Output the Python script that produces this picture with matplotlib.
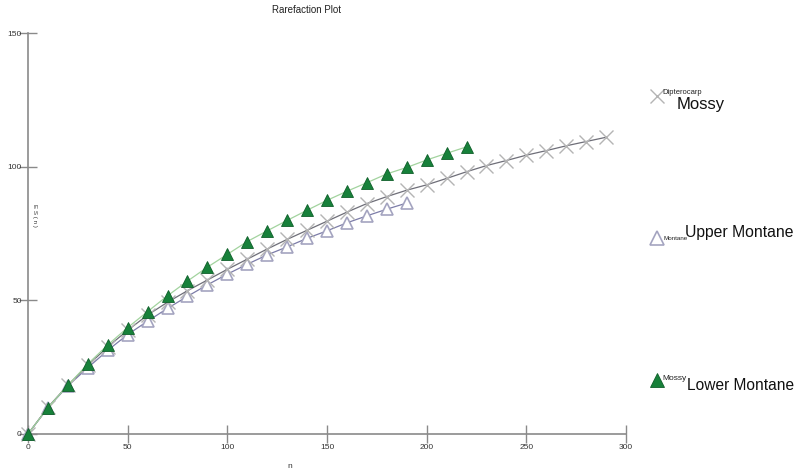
import numpy as np
import matplotlib
matplotlib.use('Agg')
import matplotlib.pyplot as plt

plt.rcParams['font.family'] = ['Liberation Sans', 'DejaVu Sans']

# sample sizes
n_dipt = np.arange(0, 300, 10)
n_upper = np.arange(0, 200, 10)
n_lower = np.arange(0, 230, 10)

# expected species E(S(n))
es_dipt = [0, 10, 18.3, 25.7, 32.6, 38.8, 44.5, 49.3, 53.6, 57.6,
           61.6, 65.4, 69.2, 72.8, 76.2, 79.6, 83.0, 86.2, 88.8, 91.2,
           93.2, 95.6, 98.1, 100.4, 102.3, 104.3, 106.0, 107.8, 109.4, 111.0]
es_upper = [0, 9.8, 18.0, 24.8, 31.3, 37.2, 42.2, 47.0, 51.5, 55.8,
            59.8, 63.5, 67.0, 70.0, 73.2, 76.0, 79.0, 81.6, 84.1, 86.4]
es_lower = [0, 9.9, 18.2, 26.2, 33.3, 39.8, 45.8, 51.7, 57.2, 62.4,
            67.2, 72.0, 76.0, 79.9, 83.7, 87.4, 90.8, 94.0, 97.3, 99.7,
            102.5, 105.0, 107.4]

x_ticks = [0, 50, 100, 150, 200, 250, 300]
y_ticks = [0, 50, 100, 150]

GREEN = '#17813a'
XGRAY = '#b4b4b4'
TRI_EDGE = '#a4a4c0'

fig = plt.figure(figsize=(8.02, 4.74), dpi=100)
ax = fig.add_axes([28 / 802, 40 / 474, 598 / 802, 401 / 474])

ax.plot(n_dipt, es_dipt, color='#6e6e78', lw=0.9, marker='x', ms=9.5,
        mec=XGRAY, mew=1.0, clip_on=False, zorder=3)
ax.plot(n_upper, es_upper, color='#7c7ca8', lw=0.9, marker='^', ms=9,
        mfc='white', mec=TRI_EDGE, mew=1.2, clip_on=False, zorder=2)
ax.plot(n_lower, es_lower, color='#a2d39e', lw=0.9, marker='^', ms=9,
        mfc=GREEN, mec='#0f5f2a', mew=0.6, clip_on=False, zorder=4)

ax.set_xlim(0, 300)
ax.set_ylim(0, 150)
ax.set_xticks(x_ticks)
ax.set_yticks(y_ticks)
for s in ['top', 'right']:
    ax.spines[s].set_visible(False)
for s in ['left', 'bottom']:
    ax.spines[s].set_color('#8a8a8a')
    ax.spines[s].set_linewidth(1.2)
ax.tick_params(direction='inout', length=13, width=1.0, color='#8a8a8a',
               labelsize=6, labelcolor='#333333', pad=1)
ax.tick_params(axis='y', pad=-2)

fig.text(307 / 802, 1 - 10 / 474, 'Rarefaction Plot', ha='center', va='center',
         fontsize=7, color='#222222')
fig.text(290 / 802, 1 - 467 / 474, 'n', ha='center', va='center',
         fontsize=6, color='#333333')
fig.text(34 / 802, 1 - 215 / 474, 'E S ( n )', ha='center', va='center',
         rotation=-90, fontsize=4.5, color='#333333')

# legend on the right
kx = 657 / 802
ax.plot([kx], [1 - 96 / 474], transform=fig.transFigure, marker='x', ms=10,
        mec=XGRAY, mew=1.0, clip_on=False)
fig.text(662 / 802, 1 - 93 / 474, 'Dipterocarp', fontsize=5.5, va='center', color='#222222')
fig.text(677 / 802, 1 - 104 / 474, 'Mossy', fontsize=12, va='center', color='#111111')

ax.plot([kx], [1 - 238 / 474], transform=fig.transFigure, marker='^', ms=10,
        mfc='white', mec=TRI_EDGE, mew=1.2, clip_on=False)
fig.text(663 / 802, 1 - 238 / 474, 'Montane', fontsize=4.5, va='center', color='#222222')
fig.text(685 / 802, 1 - 233 / 474, 'Upper Montane', fontsize=11.3, va='center', color='#111111')

ax.plot([kx], [1 - 380 / 474], transform=fig.transFigure, marker='^', ms=10,
        mfc=GREEN, mec='#0f5f2a', mew=0.6, clip_on=False)
fig.text(662 / 802, 1 - 378 / 474, 'Mossy', fontsize=6, va='center', color='#222222')
fig.text(687 / 802, 1 - 385 / 474, 'Lower Montane', fontsize=11.2, va='center', color='#111111')

fig.savefig('out.png', dpi=100)
